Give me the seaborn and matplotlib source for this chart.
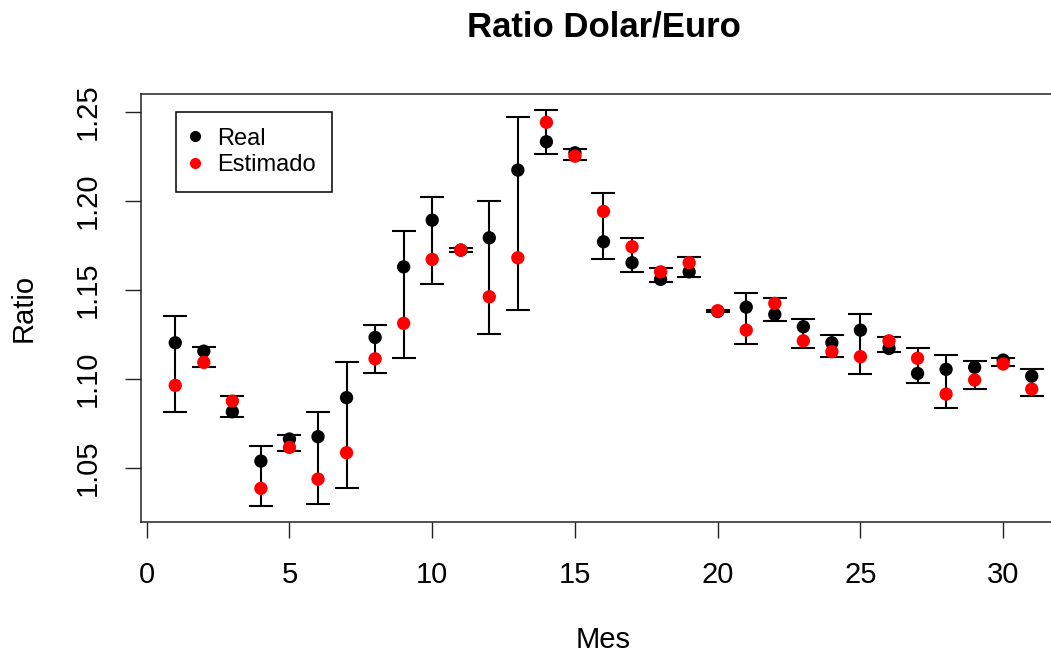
import numpy as np
import pandas as pd
import matplotlib
matplotlib.use("Agg")
import matplotlib.pyplot as plt
from matplotlib.lines import Line2D
import seaborn as sns

# Monthly dollar/euro ratio: observed vs. estimated, with interval bounds
mes = list(range(1, 32))
real = [1.1204, 1.1157, 1.0817, 1.0540, 1.0664, 1.0677, 1.0896, 1.1234, 1.1630, 1.1892,
        1.1724, 1.1793, 1.2173, 1.2332, 1.2270, 1.1771, 1.1653, 1.1560, 1.1602, 1.1380,
        1.1404, 1.1363, 1.1294, 1.1204, 1.1275, 1.1172, 1.1032, 1.1055, 1.1066, 1.1107,
        1.1017]
estimado = [1.0965, 1.1094, 1.0877, 1.0387, 1.0617, 1.0439, 1.0587, 1.1114, 1.1313, 1.1672,
            1.1724, 1.1462, 1.1681, 1.2441, 1.2251, 1.1941, 1.1743, 1.1602, 1.1653, 1.1384,
            1.1275, 1.1425, 1.1215, 1.1154, 1.1126, 1.1215, 1.1117, 1.0916, 1.0995, 1.1085,
            1.0944]
inferior = [1.0817, 1.1066, 1.0786, 1.0290, 1.0598, 1.0299, 1.0389, 1.1036, 1.1117, 1.1533,
            1.1711, 1.1255, 1.1386, 1.2261, 1.2229, 1.1672, 1.1602, 1.1543, 1.1573, 1.1378,
            1.1195, 1.1326, 1.1176, 1.1126, 1.1027, 1.1154, 1.0976, 1.0836, 1.0946, 1.1075,
            1.0907]
superior = [1.1354, 1.1182, 1.0907, 1.0626, 1.0688, 1.0815, 1.1094, 1.1303, 1.1831, 1.2020,
            1.1737, 1.2001, 1.2469, 1.2510, 1.2291, 1.2042, 1.1793, 1.1621, 1.1683, 1.1388,
            1.1485, 1.1453, 1.1335, 1.1246, 1.1363, 1.1234, 1.1176, 1.1135, 1.1103, 1.1120,
            1.1057]
series = ["Real", "Estimado"]
colores = ["black", "red"]
xticks = [0, 5, 10, 15, 20, 25, 30]
yticks = [1.05, 1.10, 1.15, 1.20, 1.25]
ytick_labels = ["1.05", "1.10", "1.15", "1.20", "1.25"]

sns.set_style("white")
plt.rcParams["font.family"] = ["Liberation Sans", "DejaVu Sans"]
plt.rcParams["text.color"] = "black"
plt.rcParams["axes.labelcolor"] = "black"

W, H = 1051, 654
fig = plt.figure(figsize=(W / 100, H / 100), dpi=100)
left, right, top, bottom = 141, 1066, 94, 521.7
ax = fig.add_axes([left / W, (H - bottom) / H, (right - left) / W, (bottom - top) / H])

df = pd.DataFrame({
    "Mes": mes * 2,
    "Ratio": real + estimado,
    "Serie": ["Real"] * len(mes) + ["Estimado"] * len(mes),
})

# interval bars
lo = np.array(inferior)
hi = np.array(superior)
mid = (lo + hi) / 2
ax.errorbar(mes, mid, yerr=[mid - lo, hi - mid], fmt="none", ecolor="black",
            elinewidth=1.5, capsize=8.6, capthick=1.5, zorder=2)

sns.scatterplot(data=df, x="Mes", y="Ratio", hue="Serie",
                palette=dict(zip(series, colores)), s=92, linewidth=0,
                marker="o", legend=False, ax=ax, zorder=3)

ax.set_xlim(-0.2, 32.2)
ax.set_ylim(1.020, 1.260)
ax.set_xticks(xticks)
ax.set_xticklabels([str(t) for t in xticks])
ax.set_yticks(yticks)
ax.set_yticklabels(ytick_labels, rotation=90, va="center")

for sp in ax.spines.values():
    sp.set_color("#222222")
    sp.set_linewidth(1.1)
ax.tick_params(axis="both", which="major", direction="out", length=11.5, width=1.0,
               color="#222222", labelsize=21, pad=17, labelcolor="black",
               bottom=True, left=True)

plot_h = bottom - top
ax.set_xlabel("Mes", fontsize=21, va="baseline")
ax.xaxis.set_label_coords(0.5, -(H - bottom - 6) / plot_h)
ax.set_ylabel("Ratio", fontsize=21, va="center")
ax.yaxis.set_label_coords((24 - left) / (right - left), 0.5)

fig.text((left + right) / 2 / W, 1 - 36.7 / H, "Ratio Dolar/Euro", fontsize=25,
         fontweight="bold", ha="center", va="baseline", color="black")

handles = [Line2D([], [], marker="o", linestyle="none", color=c, markersize=7)
           for c in colores]
leg = ax.legend(handles, series, loc="upper left",
                bbox_to_anchor=((176 - left) / (right - left), (bottom - 111.7) / plot_h),
                borderaxespad=0, fontsize=17, frameon=True, fancybox=False,
                edgecolor="black", framealpha=1, borderpad=0.68, labelspacing=0.17,
                handlelength=0.25, handletextpad=0.8)
leg.get_frame().set_linewidth(1.1)

fig.savefig("out.png", dpi=100)
